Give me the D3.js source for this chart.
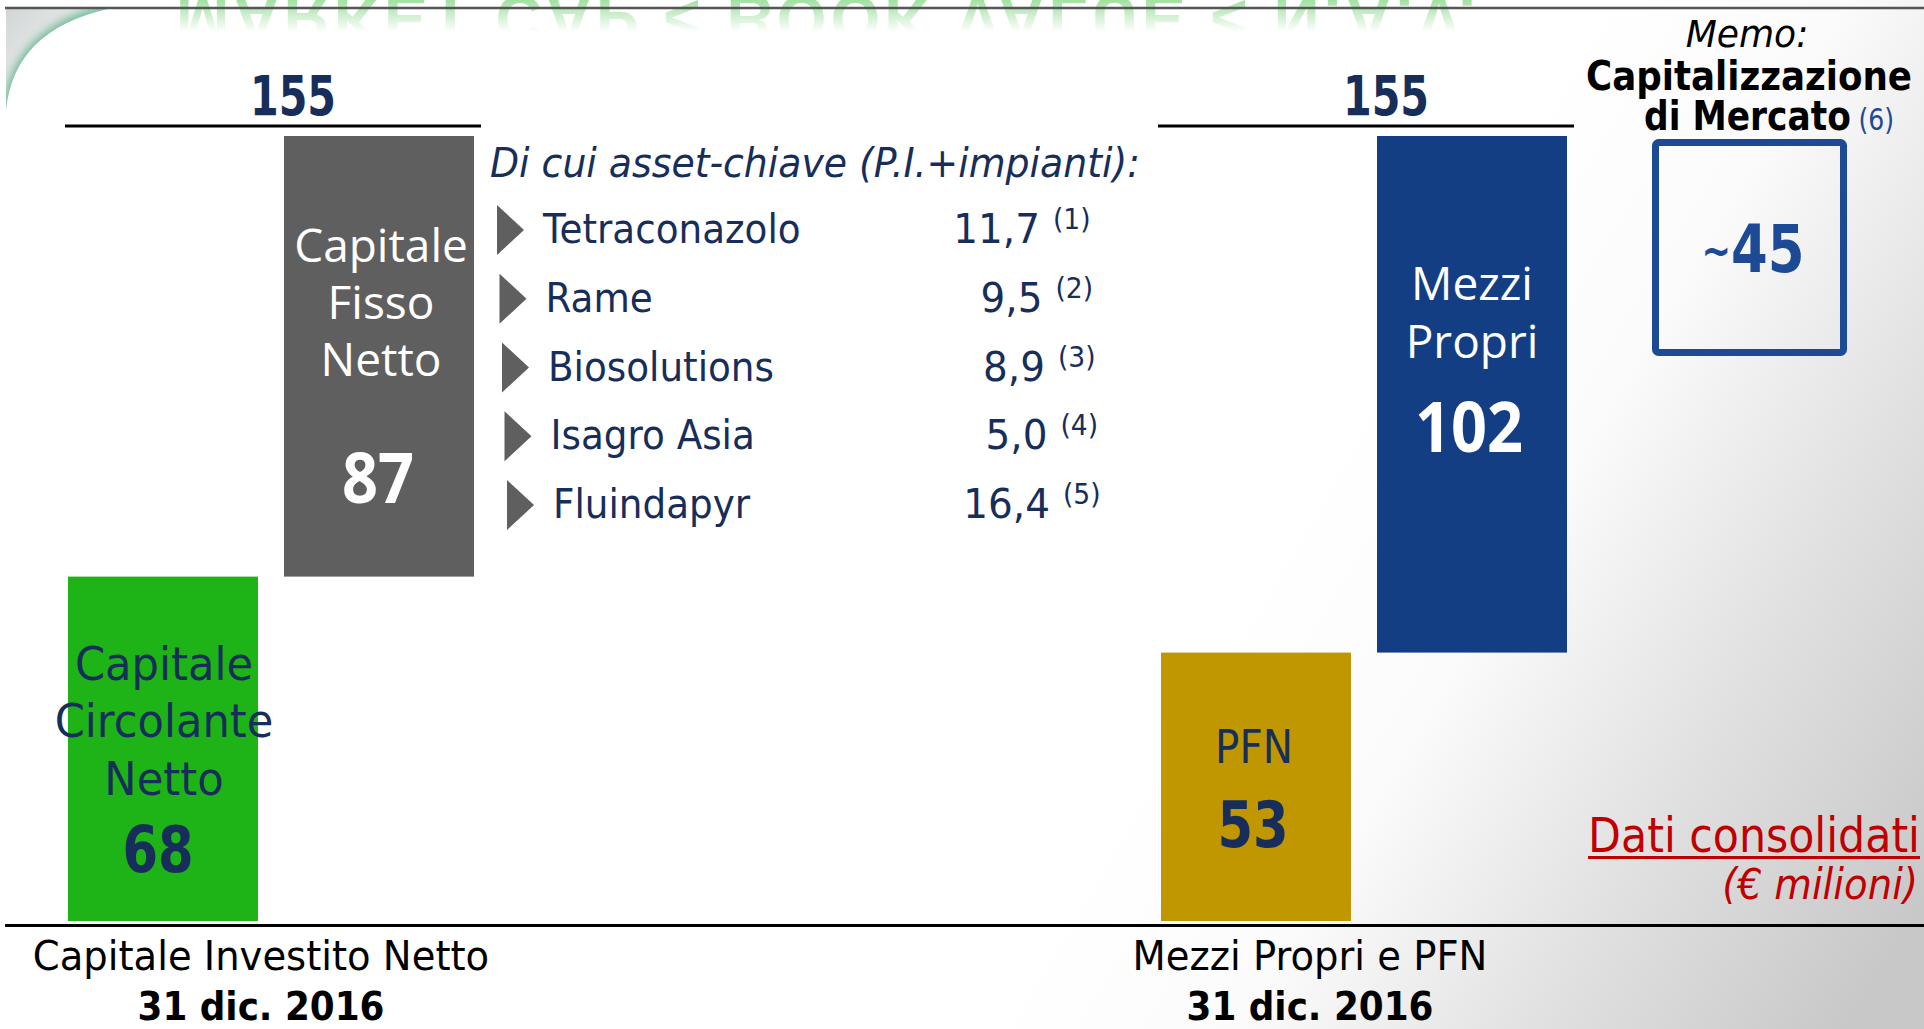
<!DOCTYPE html>
<html><head><meta charset="utf-8">
<script src="https://cdn.jsdelivr.net/npm/d3@7"></script>
<style>html,body{margin:0;padding:0;background:#fff;overflow:hidden}svg{display:block}</style>
</head><body>
<script>
// ---------------- data ----------------
const columns = ["Capitale Investito Netto", "Mezzi Propri e PFN"];
const columnDates = ["31 dic. 2016", "31 dic. 2016"];
const columnTotals = [155, 155];
const segmentNames = ["Capitale Circolante Netto", "Capitale Fisso Netto", "PFN", "Mezzi Propri"];
const segmentColumns = [0, 0, 1, 1];
const segmentValues = [68, 87, 53, 102];
const assetHeader = "Di cui asset-chiave (P.I.+impianti):";
const assetNames = ["Tetraconazolo", "Rame", "Biosolutions", "Isagro Asia", "Fluindapyr"];
const assetValues = [11.7, 9.5, 8.9, 5.0, 16.4];
const assetNotes = ["(1)", "(2)", "(3)", "(4)", "(5)"];
const memoLines = ["Memo:", "Capitalizzazione", "di Mercato"];
const memoNote = "(6)";
const marketCap = 45;
const unitLabels = ["Dati consolidati", "(€ milioni)"];
const slideTitle = "MARKET CAP < BOOK VALUE < N.A.V.";

// ---------------- styles ----------------
const W = 1924, H = 1029;
const NAVY = "#172e5a";
const SANS = "'DejaVu Sans', Verdana, sans-serif";
const OPEN = "'Open Sans', 'Noto Sans', sans-serif";
const segStyle = [
  {fill: "#1eb316", text: NAVY, family: SANS, size: 47, sx: 0.92, lineY: [680, 737, 795], numY: 872, numFamily: SANS, numSize: 64, numSx: 0.8, dx: 1, numDx: -5},
  {fill: "#5f5f5f", text: "#fff", family: OPEN, size: 46, sx: 1, lineY: [262, 319, 376], numY: 503, numFamily: OPEN, numSize: 70, numSx: 0.9, dx: 2, numDx: -1},
  {fill: "#c09700", text: NAVY, family: SANS, size: 46, sx: 0.88, lineY: [763], numY: 847, numFamily: SANS, numSize: 64, numSx: 0.8, dx: -2, numDx: -3},
  {fill: "#143e84", text: "#fff", family: OPEN, size: 46, sx: 1, lineY: [300, 358], numY: 452, numFamily: OPEN, numSize: 70, numSx: 0.9, dx: 0, numDx: -3}
];

const svg = d3.select("body").append("svg").attr("width", W).attr("height", H)
  .attr("viewBox", `0 0 ${W} ${H}`);
const defs = svg.append("defs");

// background gradient
const bg = defs.append("linearGradient").attr("id", "bg").attr("gradientUnits", "userSpaceOnUse")
  .attr("x1", 1280).attr("y1", 520).attr("x2", 1924).attr("y2", 900);
[[0, "#ffffff"], [0.3, "#fbfbfb"], [0.65, "#e0e0e0"], [1, "#c8c8c8"]].forEach(([o, c]) =>
  bg.append("stop").attr("offset", o).attr("stop-color", c));
svg.append("rect").attr("width", W).attr("height", H).attr("fill", "url(#bg)");

// corner swoosh
const cg = defs.append("linearGradient").attr("id", "corner").attr("gradientUnits", "userSpaceOnUse")
  .attr("x1", 6).attr("y1", 10).attr("x2", 70).attr("y2", 70);
cg.append("stop").attr("offset", 0).attr("stop-color", "#d3d6d6");
cg.append("stop").attr("offset", 1).attr("stop-color", "#eef1f0");
defs.append("filter").attr("id", "blur").attr("x", "-50%").attr("y", "-50%").attr("width", "200%").attr("height", "200%")
  .append("feGaussianBlur").attr("stdDeviation", 4);
defs.append("clipPath").attr("id", "cornerClip").append("path").attr("d", "M6,110 Q14,30 108,9 L6,9 Z");
svg.append("path").attr("d", "M6,110 Q14,30 108,9 L6,9 Z").attr("fill", "url(#corner)");
svg.append("g").attr("clip-path", "url(#cornerClip)").append("path")
  .attr("d", "M8,112 Q16,32 110,9").attr("fill", "none").attr("stroke", "#4fae80")
  .attr("stroke-width", 12).attr("opacity", 0.75).attr("filter", "url(#blur)");

// reflected title (faded)
const mg = defs.append("linearGradient").attr("id", "fade").attr("gradientUnits", "userSpaceOnUse")
  .attr("x1", 0).attr("y1", 0).attr("x2", 0).attr("y2", 32);
mg.append("stop").attr("offset", 0).attr("stop-color", "#fff").attr("stop-opacity", 0.65);
mg.append("stop").attr("offset", 1).attr("stop-color", "#fff").attr("stop-opacity", 0);
const mask = defs.append("mask").attr("id", "titleMask").attr("maskUnits", "userSpaceOnUse")
  .attr("x", 0).attr("y", 0).attr("width", W).attr("height", 40);
mask.append("rect").attr("width", W).attr("height", 40).attr("fill", "url(#fade)");
svg.append("g").attr("mask", "url(#titleMask)").append("text")
  .attr("transform", "translate(176,-4) scale(1,-1)")
  .attr("font-family", "'Liberation Sans', Arial, sans-serif").attr("font-weight", "bold")
  .attr("font-size", 64).attr("fill", "#6fd06f")
  .attr("textLength", 1300).attr("lengthAdjust", "spacing").text(slideTitle);

// top rule
svg.append("line").attr("x1", 5).attr("x2", W).attr("y1", 8).attr("y2", 8)
  .attr("stroke", "#555").attr("stroke-width", 2.5);

// text helper
function label(g, s, x, y, o) {
  return g.append("text")
    .attr("transform", `translate(${x},${y}) scale(${o.sx || 1},1)`)
    .attr("text-anchor", o.anchor || "middle")
    .attr("font-family", o.family || SANS)
    .attr("font-size", o.size)
    .attr("font-weight", o.weight || "normal")
    .attr("font-style", o.style || "normal")
    .attr("fill", o.fill || NAVY)
    .text(s);
}

// ---------------- scales ----------------
const x = d3.scalePoint().domain(columns).range([271, 1364]);
const y = d3.scaleLinear().domain([0, 155]).range([921, 136]);
const barW = 190, barOffset = 108;

// stacked segments
const cum = columns.map(() => 0);
const segs = segmentValues.map((v, i) => {
  const c = segmentColumns[i];
  const k = segmentColumns.slice(0, i).filter(d => d === c).length;
  const y0 = cum[c]; cum[c] += v;
  return {i, c, k, v, y0, y1: y0 + v, name: segmentNames[i]};
});

const gBars = svg.append("g");
segs.forEach(s => {
  const st = segStyle[s.i];
  const cx = x(columns[s.c]) + (s.k === 0 ? -barOffset : barOffset);
  gBars.append("rect")
    .attr("x", cx - barW / 2).attr("width", barW)
    .attr("y", y(s.y1)).attr("height", y(s.y0) - y(s.y1))
    .attr("fill", st.fill);
  s.name.split(" ").forEach((w, j) =>
    label(gBars, w, cx + st.dx, st.lineY[j], {size: st.size, sx: st.sx, family: st.family, fill: st.text}));
  label(gBars, d3.format("d")(s.v), cx + st.numDx, st.numY,
    {size: st.numSize, sx: st.numSx, family: st.numFamily, weight: "bold", fill: st.text});
});

// totals
columns.forEach((c, i) => {
  const cx = x(c);
  svg.append("line").attr("x1", cx - 206).attr("x2", cx + 210)
    .attr("y1", y(columnTotals[i]) - 10).attr("y2", y(columnTotals[i]) - 10)
    .attr("stroke", "#000").attr("stroke-width", 3);
  label(svg, d3.format("d")(columnTotals[i]), cx + 22, y(columnTotals[i]) - 21,
    {size: 55, sx: 0.75, weight: "bold", fill: NAVY});
});

// baseline + category labels
svg.append("line").attr("x1", 5).attr("x2", W).attr("y1", y(0) + 4.5).attr("y2", y(0) + 4.5)
  .attr("stroke", "#000").attr("stroke-width", 3);
const labelShift = [-10, -54];
columns.forEach((c, i) => {
  label(svg, c, x(c) + labelShift[i], 970, {size: 41, sx: 0.94, fill: "#000"});
  label(svg, columnDates[i], x(c) + labelShift[i], 1020, {size: 38.5, sx: 0.93, weight: "bold", fill: "#000"});
});

// asset list
const gA = svg.append("g");
label(gA, assetHeader, 490, 177, {anchor: "start", size: 40, sx: 0.945, style: "italic"});
const rowY = d3.scalePoint().domain(assetNames).range([243, 518]);
const fmt = v => d3.format(".1f")(v).replace(".", ",");
assetNames.forEach((n, i) => {
  const by = rowY(n), drift = 2.5 * i;
  gA.append("path")
    .attr("d", d3.line()([[497 + drift, by - 38], [524 + drift, by - 13], [497 + drift, by + 12]]) + "Z")
    .attr("fill", "#5f5f5f");
  label(gA, n, 543 + drift, by, {anchor: "start", size: 41, sx: 0.91});
  const vEnd = 1040 + drift;
  label(gA, fmt(assetValues[i]), vEnd, by, {anchor: "end", size: 41, sx: 0.95});
  label(gA, assetNotes[i], vEnd + 13, by - 14, {anchor: "start", size: 28, sx: 0.95});
});

// memo box
const gM = svg.append("g");
label(gM, memoLines[0], 1747, 47, {size: 38, sx: 0.95, style: "italic", fill: "#000"});
label(gM, memoLines[1], 1749, 90, {size: 41, sx: 0.87, weight: "bold", fill: "#000"});
const t3 = label(gM, memoLines[2], 1644, 130, {anchor: "start", size: 41, sx: 0.84, weight: "bold", fill: "#000"});
t3.append("tspan").attr("dx", 9).attr("font-weight", "normal").attr("font-size", 30).attr("fill", "#1d4a94").text(memoNote);
gM.append("rect").attr("x", 1655.5).attr("y", 142.5).attr("width", 188).attr("height", 210)
  .attr("rx", 3).attr("fill", "none").attr("stroke", "#1d4a94").attr("stroke-width", 7);
const t45 = label(gM, "", 1753, 272, {size: 66, sx: 0.8, weight: "bold", fill: "#1d4a94"});
t45.append("tspan").attr("font-size", 44).attr("dy", -6).text("~");
t45.append("tspan").attr("dy", 6).text(d3.format("d")(marketCap));

// unit note
const tD = label(svg, unitLabels[0], 1920, 852, {anchor: "end", size: 48, sx: 0.89, fill: "#c00000"});
const bb = tD.node().getBoundingClientRect();
svg.append("line").attr("x1", bb.left).attr("x2", bb.right).attr("y1", 857.5).attr("y2", 857.5)
  .attr("stroke", "#c00000").attr("stroke-width", 3);
label(svg, unitLabels[1], 1918, 899, {anchor: "end", size: 42, sx: 0.92, style: "italic", fill: "#c00000"});
</script>
</body></html>
